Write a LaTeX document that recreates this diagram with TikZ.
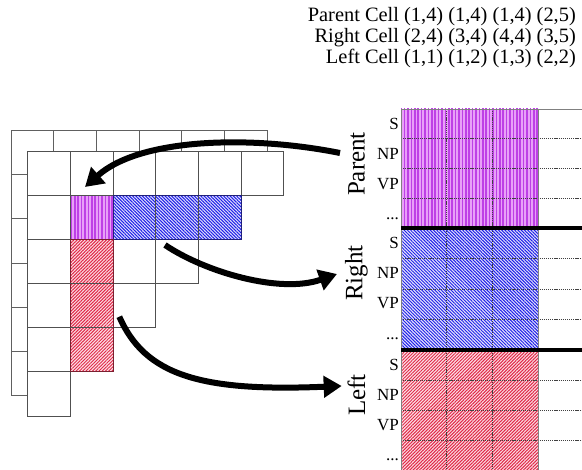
\documentclass[tikz,border=0pt]{standalone}
\usepackage{fontspec}
\setmainfont{Liberation Serif}
\usetikzlibrary{arrows.meta,patterns.meta}
\definecolor{gridline}{HTML}{505050}
\definecolor{backline}{HTML}{606060}
\definecolor{purpbg}{HTML}{E8A0F8}
\definecolor{purpfg}{HTML}{BE40E6}
\definecolor{bluefg}{HTML}{2020E8}
\definecolor{bluebg}{HTML}{E4E4FC}
\definecolor{blueedge}{HTML}{20207A}
\definecolor{redfg}{HTML}{E02848}
\definecolor{redbg}{HTML}{FCE0E6}
\definecolor{rededge}{HTML}{7A2030}
\begin{document}
\begin{tikzpicture}[x=1pt,y=-1pt,
  backcell/.style={draw=backline,fill=white,line width=0.9pt},
  frontcell/.style={draw=gridline,fill=white,line width=0.9pt},
  purpfill/.style={fill=purpbg,postaction={pattern={Lines[angle=90,distance=3.4pt,line width=1.5pt]},pattern color=purpfg}},
  bluefill/.style={fill=bluebg,postaction={pattern={Lines[angle=-45,distance=2.3pt,line width=1pt]},pattern color=bluefg}},
  redfill/.style={fill=redbg,postaction={pattern={Lines[angle=45,distance=2.3pt,line width=1pt]},pattern color=redfg}},
  tabline/.style={draw=gray,line width=0.9pt},
  tabdot/.style={draw=black!75,line width=0.7pt,dash pattern=on 1.2pt off 0.9pt},
  thickline/.style={draw=black,line width=4pt},
  rowlab/.style={inner sep=0pt,font=\fontsize{17}{17}\selectfont},
  sidelab/.style={rotate=90,inner sep=0pt,font=\fontsize{25}{25}\selectfont},
  toplab/.style={anchor=base east,inner sep=0pt,font=\fontsize{20.4}{21}\selectfont},
  bigarrow/.style={draw=black,line width=6pt,-{Triangle[length=18pt,width=21pt]}}]
\useasboundingbox (0,0) rectangle (582,470);
% back chart (staircase)
\foreach \r in {0,...,5}{
  \pgfmathtruncatemacro\cmax{5-\r}
  \foreach \c in {0,...,\cmax}{
    \draw[backcell] ({11+42.7*\c},{130.7+44.1*\r}) rectangle ++(42.7,44.1);
  }
}
% front chart (staircase)
\foreach \r in {0,...,5}{
  \pgfmathtruncatemacro\cmax{5-\r}
  \foreach \c in {0,...,\cmax}{
    \draw[frontcell] ({27.7+42.7*\c},{151.7+44.05*\r}) rectangle ++(42.7,44.05);
  }
}
% coloured cells
\path[purpfill] (70.4,195.75) rectangle (113.1,239.8);
\draw[gridline,line width=0.9pt] (70.4,195.75) rectangle (113.1,239.8);
\path[bluefill] (113.1,195.75) rectangle (241.2,239.8);
\draw[blueedge,line width=0.9pt] (113.1,195.75) rectangle (241.2,239.8);
\draw[gridline,line width=0.9pt] (155.8,195.75) -- (155.8,239.8) (198.5,195.75) -- (198.5,239.8);
\path[redfill] (70.4,239.8) rectangle (113.1,371.95);
\draw[rededge,line width=0.9pt] (70.4,239.8) rectangle (113.1,371.95);
\draw[gridline,line width=0.9pt] (70.4,283.85) -- (113.1,283.85) (70.4,327.9) -- (113.1,327.9);
% table
\path[purpfill] (401,109) rectangle (538.3,228.3);
\path[bluefill] (401,228.3) rectangle (538.3,350);
\path[redfill] (401,350) rectangle (538.3,471);
\foreach \y in {138.8,168.6,198.5,258.7,289.1,319.6,380.2,410.5,440.7}{
  \draw[tabdot] (401,\y) -- (582,\y);
}
\draw[tabdot] (446.7,109) -- (446.7,471) (492.7,109) -- (492.7,471);
\draw[tabline] (582,109) -- (401,109) -- (401,471);
\draw[tabline] (538.3,109) -- (538.3,471);
\draw[thickline] (401,228.3) -- (582,228.3);
\draw[thickline] (401,350) -- (582,350);
% row labels
\foreach \t/\s in {109/p,228.3/r,350/l}{
  \node[rowlab,anchor=east] (S\s) at (399,{\t+15}) {S};
  \node[rowlab,anchor=east] (NP\s) at (399,{\t+45}) {NP};
  \node[rowlab,anchor=east] (VP\s) at (399,{\t+75}) {VP};
  \node[rowlab,anchor=base east] (D\s) at (399,{\t+111}) {...};
}
\node[sidelab] (parentlab) at (356.5,164) {Parent};
\node[sidelab] (rightlab) at (356.5,273) {Right};
\node[sidelab] (leftlab) at (356.5,395) {Left};
% top text
\node[toplab] (t1) at (576,22) {Parent Cell (1,4) (1,4) (1,4) (2,5)};
\node[toplab] (t2) at (576,43) {Right Cell (2,4) (3,4) (4,4) (3,5)};
\node[toplab] (t3) at (576,64) {Left Cell (1,1) (1,2) (1,3) (2,2)};
% arrows
\coordinate (a1s) at (340,153);
\coordinate (a1e) at (85,187);
\coordinate (a2s) at (165,245);
\coordinate (a2e) at (337,274);
\coordinate (a3s) at (119.3,316.7);
\coordinate (a3e) at (341.7,386);
\draw[bigarrow] (a1s) .. controls (250,135) and (140,138) .. (a1e);
\draw[bigarrow] (a2s) .. controls (205,272) and (280,294) .. (a2e);
\draw[bigarrow] (a3s) .. controls (145,375) and (200,392) .. (a3e);
\end{tikzpicture}
\end{document}
